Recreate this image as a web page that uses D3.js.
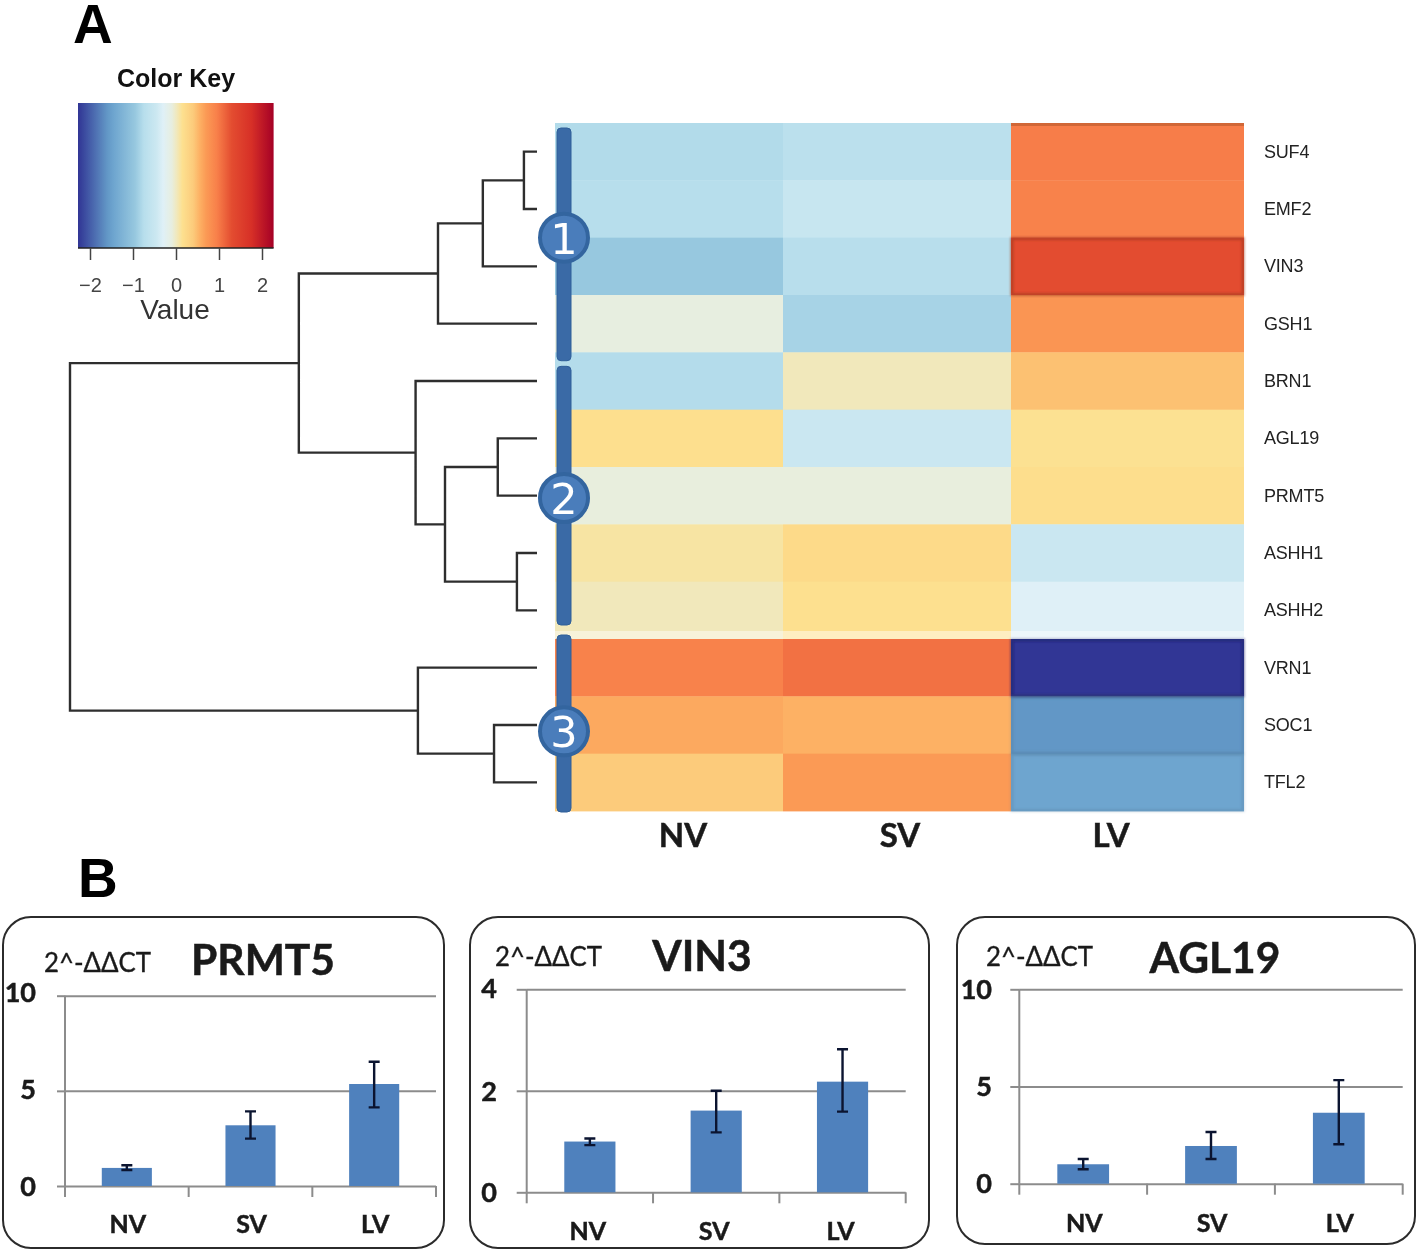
<!DOCTYPE html>
<html><head><meta charset="utf-8">
<script src="https://d3js.org/d3.v7.min.js"></script>
<style>
html,body{margin:0;padding:0;background:#fff;overflow:hidden}
svg{display:block;filter:blur(.55px)}
text{font-family:"Liberation Sans",Arial,sans-serif}
.cal{font-family:Lato,"Open Sans",sans-serif;font-weight:700;fill:#1a1a1a;stroke:#1a1a1a;stroke-width:.5px}
</style></head><body>
<svg id="c" width="1418" height="1252"></svg>
<script>
// ---------- data ----------
const genes = ["SUF4","EMF2","VIN3","GSH1","BRN1","AGL19","PRMT5","ASHH1","ASHH2","VRN1","SOC1","TFL2"];
const conditions = ["NV","SV","LV"];
const nvValues = [-0.78,-0.75,-0.95,-0.10,-0.77,0.16,-0.09,0.09,0.02,0.93,0.60,0.40];
const svValues = [-0.70,-0.52,-0.74,-0.85,0.02,-0.48,-0.09,0.22,0.15,1.05,0.55,0.70];
const lvValues = [0.97,0.93,1.30,0.75,0.46,0.14,0.17,-0.48,-0.30,-2.27,-1.60,-1.45];
const keyTicks = [-2,-1,0,1,2];
const colorStops = [-2.27,-1.6,-1.45,-0.95,-0.75,-0.45,-0.3,-0.1,0.02,0.15,0.4,0.55,0.7,0.95,1.3,1.75,2.27];
const colorValues = ["#313695","#6297c6","#6ea5cf","#97c8df","#b7deec","#cce8f1","#dff0f7","#e7eee0","#f1e8bb","#fde08f","#fccb7b","#fdb164","#fb9a55","#f8804a","#e34c30","#d73027","#a50026"];
// dendrogram: [height, left, right]; a string is a leaf gene
const dendrogram = [10,
  [5.1,
    [2.12,[1.16,[0.28,"SUF4","EMF2"],"VIN3"],"GSH1"],
    [2.6,"BRN1",[1.97,[0.84,"AGL19","PRMT5"],[0.43,"ASHH1","ASHH2"]]]],
  [2.55,"VRN1",[0.92,"SOC1","TFL2"]]];
const clusterNames = ["1","2","3"];
const clusterFirst = ["SUF4","BRN1","VRN1"];
const clusterLast = ["GSH1","ASHH2","TFL2"];
const clusterBadgeGene = ["VIN3","PRMT5","SOC1"];

const panelGenes = ["PRMT5","VIN3","AGL19"];
const panelAxisMax = [10,4,10];
const panelTicks = [[0,5,10],[0,2,4],[0,5,10]];
const panelMeans = [[0.95,3.19,5.36],[1.0,1.61,2.18],[1.0,1.94,3.65]];
const panelLow = [[0.84,2.49,4.13],[0.93,1.18,1.59],[0.74,1.27,2.03]];
const panelHigh = [[1.09,3.92,6.53],[1.06,2.0,2.82],[1.27,2.66,5.33]];
const yLabel = "2^-ΔΔCT";

// ---------- layout ----------
const svg = d3.select("#c");
const color = d3.scaleLinear().domain(colorStops).range(colorValues).interpolate(d3.interpolateRgb).clamp(true);

const txt = (g,x,y,s,size,o={})=>g.append("text").attr("x",x).attr("y",y).text(s)
  .attr("font-size",size).attr("text-anchor",o.a||"middle").attr("class",o.c||null)
  .attr("font-weight",o.w||null).attr("fill",o.f||null);

txt(svg,73,43,"A",55,{a:"start",w:"bold",f:"#000"});
txt(svg,78,897,"B",55,{a:"start",w:"bold",f:"#000"});

const defs = svg.append("defs");
defs.append("filter").attr("id","soft").attr("x","-5%").attr("y","-10%").attr("width","110%").attr("height","120%")
  .append("feGaussianBlur").attr("stdDeviation",1.3);

// ---------- colour key ----------
const keyX = d3.scaleLinear().domain([-2,2]).range([90,262]);
const keyG = svg.append("g");
const keyDomain = [keyX.invert(78),keyX.invert(273.6)];
const grad = defs.append("linearGradient").attr("id","keyGrad");
colorStops.forEach((v,i)=>grad.append("stop")
  .attr("offset",(v-keyDomain[0])/(keyDomain[1]-keyDomain[0])).attr("stop-color",colorValues[i]));
keyG.append("rect").attr("x",78).attr("y",103).attr("width",195.6).attr("height",145).attr("fill","url(#keyGrad)");
const keyAxis = keyG.append("g").attr("transform","translate(0,248)")
  .call(d3.axisBottom(keyX).tickValues(keyTicks).tickSize(12).tickPadding(18).tickFormat(d=>d<0?"−"+(-d):d));
keyAxis.select(".domain").attr("stroke","#222").attr("stroke-width",1.5).attr("d","M78,0H273.6");
keyAxis.selectAll(".tick line").attr("stroke","#444").attr("stroke-width",1.5);
keyAxis.selectAll(".tick text").attr("font-size",20).attr("fill","#444").attr("font-family","Liberation Sans");
txt(svg,176,87,"Color Key",25,{w:"bold",f:"#111"});
txt(svg,175,319,"Value",28,{f:"#333"});

// ---------- heatmap ----------
const hx = d3.scaleOrdinal().domain(conditions).range([555,783,1011]);
const hw = d3.scaleOrdinal().domain(conditions).range([228,228,233]);
const hy = d3.scaleBand().domain(genes).range([123,811]);
const heatRows = [nvValues,svValues,lvValues];
const heat = svg.append("g");
conditions.forEach((c,ci)=>{
  heat.selectAll(null).data(genes).enter().append("rect")
    .attr("x",hx(c)).attr("y",d=>hy(d)).attr("width",hw(c)).attr("height",hy.bandwidth()+.4)
    .attr("fill",(d,i)=>color(heatRows[ci][i]));
});
// soft darker rim seen on the strongest cells
const rim = heat.append("g").attr("filter","url(#soft)");
const rimGenes = genes.filter((d,i)=>Math.abs(lvValues[i])>=1.2);
rim.selectAll(null).data(rimGenes).enter().append("rect")
  .attr("x",hx("LV")+1).attr("y",d=>hy(d)+1).attr("width",hw("LV")-2).attr("height",hy.bandwidth()-1.5)
  .attr("fill","none").attr("stroke-width",3)
  .attr("stroke",d=>d3.color(color(lvValues[genes.indexOf(d)])).darker(1))
  .attr("stroke-opacity",d=>Math.abs(lvValues[genes.indexOf(d)])<2 && lvValues[genes.indexOf(d)]<0 ? .25 : .6);
heat.append("rect").attr("x",555).attr("y",hy("ASHH2")+hy.bandwidth()-8).attr("width",689).attr("height",8)
  .attr("fill","#fff").attr("opacity",.45);
heat.append("rect").attr("x",1011).attr("y",123).attr("width",233).attr("height",3).attr("fill","#b8582c").attr("opacity",.6);

// row + column labels
const rowLabels = svg.append("g");
rowLabels.selectAll("text").data(genes).enter().append("text")
  .attr("x",1264).attr("y",d=>hy(d)+hy.bandwidth()/2+6).text(d=>d)
  .attr("font-size",18).attr("fill","#222").attr("letter-spacing",-0.2);
const colLabelX = d3.scaleOrdinal().domain(conditions).range([683,900,1111]);
conditions.forEach(c=>txt(svg,colLabelX(c),847,c,33,{c:"cal"}));

// ---------- dendrogram ----------
const dx = d3.scaleLinear().domain([0,10]).range([537,70]);
const dendroPath = d3.path();
function walk(n){
  if(typeof n==="string") return {x:dx(0),y:hy(n)+hy.bandwidth()/2};
  const a=walk(n[1]), b=walk(n[2]), x=dx(n[0]);
  dendroPath.moveTo(a.x,a.y); dendroPath.lineTo(x,a.y); dendroPath.lineTo(x,b.y); dendroPath.lineTo(b.x,b.y);
  return {x,y:(a.y+b.y)/2};
}
walk(dendrogram);
svg.append("path").attr("d",dendroPath.toString()).attr("fill","none").attr("stroke","#2e2e2e").attr("stroke-width",2.4);

// ---------- cluster bars ----------
const clusters = svg.append("g");
const stripTop = [5,14,-4], stripBottom = [8.4,-14,1], badgeDy = [0,31,35];
clusterNames.forEach((name,i)=>{
  const top=hy(clusterFirst[i])+stripTop[i];
  const bottom=hy(clusterLast[i])+hy.bandwidth()+stripBottom[i];
  clusters.append("rect").attr("x",557).attr("y",top).attr("width",14).attr("height",bottom-top).attr("rx",4)
    .attr("fill","#3a6aa6").attr("stroke","#2f5f99").attr("stroke-width",1);
});
clusterNames.forEach((name,i)=>{
  const cy=hy(clusterBadgeGene[i])+badgeDy[i];
  clusters.append("circle").attr("cx",564).attr("cy",cy).attr("r",24).attr("fill","#4a7dbb").attr("stroke","#33659f").attr("stroke-width",4);
  clusters.append("text").attr("x",564).attr("y",cy+16).attr("text-anchor","middle").text(name)
    .style("font-family","'DejaVu Sans'").attr("font-size",43).attr("fill","#fff");
});

// ---------- bar panels ----------
const frames = [[3,917,441,331],[470,917,459,331],[957,917,458,327]];
const plotBox = [[65,436,995.7,1186],[526.7,905.7,989.3,1192.3],[1019.3,1402.7,989.3,1183.7]];
const tickOut = [8,10,9];
const xTickLen = 11;
const yLabelRight = [36,497,992];
const yLabelDy = [[9,8,6],[9.4,9.3,8.4],[9,9,8.7]];
const catY = [1233,1240,1232];
const catDx = [1,-2,1];
const axisTextPos = [[44,972],[495,966],[986,966]];
const titlePos = [[263,975],[702,971],[1215,973]];

panelGenes.forEach((gene,p)=>{
  const g = svg.append("g");
  const [fx,fy,fw,fh]=frames[p];
  g.append("rect").attr("x",fx).attr("y",fy).attr("width",fw).attr("height",fh).attr("rx",28)
    .attr("fill","#fff").attr("stroke","#2b2b2b").attr("stroke-width",2);
  const [x0,x1,yTop,yBot]=plotBox[p];
  const x = d3.scaleBand().domain(conditions).range([x0,x1]).paddingInner(0).paddingOuter(0);
  const y = d3.scaleLinear().domain([0,panelAxisMax[p]]).range([yBot,yTop]);
  // horizontal rules
  const ya = g.append("g").attr("transform",`translate(${x0},0)`)
    .call(d3.axisLeft(y).tickValues(panelTicks[p]).tickFormat(d3.format("d")).tickSize(tickOut[p]).tickPadding(x0-tickOut[p]-yLabelRight[p]));
  ya.select(".domain").attr("stroke","#8c8c8c").attr("stroke-width",2).attr("d",`M0,${yTop}V${yBot}`);
  ya.selectAll(".tick line").attr("stroke","#8c8c8c").attr("stroke-width",2);
  ya.selectAll(".tick").append("line").attr("x1",0).attr("x2",x1-x0).attr("stroke","#8c8c8c").attr("stroke-width",2);
  ya.selectAll(".tick text").attr("class","cal").attr("font-size",27).attr("dy",null)
    .attr("y",(d,i)=>yLabelDy[p][i]).attr("fill","#1a1a1a");
  // x ticks at the band edges
  g.selectAll(null).data(conditions.map(c=>x(c)).concat([x1])).enter().append("line")
    .attr("x1",d=>d).attr("x2",d=>d).attr("y1",yBot).attr("y2",yBot+xTickLen)
    .attr("stroke","#8c8c8c").attr("stroke-width",2);
  // bars
  const barW = x.bandwidth()*0.405;
  const cx = c=>x(c)+x.bandwidth()/2;
  g.selectAll(null).data(conditions).enter().append("rect")
    .attr("x",c=>cx(c)-barW/2).attr("width",barW)
    .attr("y",(c,i)=>y(panelMeans[p][i])).attr("height",(c,i)=>yBot-y(panelMeans[p][i]))
    .attr("fill","#4f81bd");
  // error bars
  const ep = d3.path();
  conditions.forEach((c,i)=>{
    const X=cx(c), a=y(panelLow[p][i]), b=y(panelHigh[p][i]);
    ep.moveTo(X,a); ep.lineTo(X,b);
    ep.moveTo(X-5.5,a); ep.lineTo(X+5.5,a);
    ep.moveTo(X-5.5,b); ep.lineTo(X+5.5,b);
  });
  g.append("path").attr("d",ep.toString()).attr("stroke","#0b1430").attr("stroke-width",2.4).attr("fill","none");
  // text
  conditions.forEach(c=>txt(g,cx(c)+catDx[p],catY[p],c,25,{c:"cal"}));
  txt(g,axisTextPos[p][0],axisTextPos[p][1],yLabel,27,{a:"start",f:"#1a1a1a"})
    .style("font-family","Lato,'Open Sans',sans-serif").style("stroke","#1a1a1a").style("stroke-width",".35px")
    .attr("textLength",107).attr("lengthAdjust","spacingAndGlyphs");
  txt(g,titlePos[p][0],titlePos[p][1],gene,42.5,{c:"cal"});
});
</script>
</body></html>
